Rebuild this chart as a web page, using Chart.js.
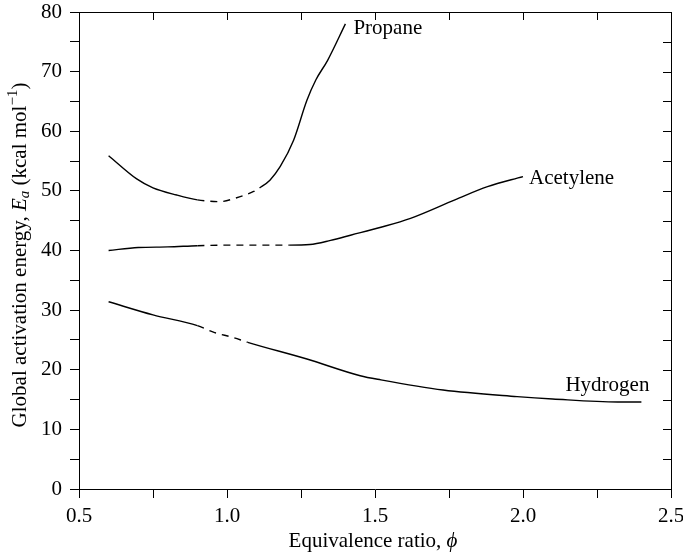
<!DOCTYPE html>
<html>
<head>
<meta charset="utf-8">
<script src="https://cdn.jsdelivr.net/npm/chart.js@4.4.1/dist/chart.umd.min.js"></script>
<style>
  html, body { margin: 0; padding: 0; background: #fff; }
  #wrap { width: 683px; height: 555px; }
</style>
</head>
<body>
<div id="wrap"><canvas id="chart"></canvas></div>
<script>
// values
const propanePhi = [0.6, 0.695, 0.75, 0.83, 0.9, 0.975, 1.03, 1.09, 1.11, 1.145, 1.18, 1.225, 1.27, 1.3, 1.34, 1.4];
const propaneEa = [55.9, 52.0, 50.5, 49.3, 48.5, 48.2, 48.8, 49.9, 50.5, 51.8, 54.1, 58.5, 65.2, 68.6, 71.9, 78.0];

const acetylenePhi = [0.6, 0.7, 0.8, 0.9, 1.0, 1.1, 1.21, 1.28, 1.35, 1.42, 1.52, 1.62, 1.77, 1.88, 2.0];
const acetyleneEa = [40.0, 40.5, 40.6, 40.8, 40.9, 40.9, 40.9, 41.0, 41.7, 42.6, 43.9, 45.4, 48.5, 50.7, 52.4];

const hydrogenPhi = [0.6, 0.75, 0.9, 0.954, 1.021, 1.07, 1.27, 1.45, 1.52, 1.73, 1.98, 2.1, 2.32, 2.4];
const hydrogenEa = [31.4, 29.2, 27.4, 26.3, 25.4, 24.6, 21.8, 19.0, 18.3, 16.6, 15.5, 15.1, 14.6, 14.6];

// phi ranges where each curve is drawn dashed
const propaneDashed = [0.9, 1.11];
const acetyleneDashed = [0.9, 1.21];
const hydrogenDashed = [0.9, 1.07];

const xTicks = [0.5, 1.0, 1.5, 2.0, 2.5];
const yTicks = [0, 10, 20, 30, 40, 50, 60, 70, 80];

const serif = "'Liberation Serif', 'Times New Roman', serif";

function pts(xs, ys) {
  return xs.map((x, i) => ({ x: x, y: ys[i] }));
}

function curve(name, xs, ys, dashed, label) {
  return {
    label: name,
    data: pts(xs, ys),
    showLine: true,
    borderColor: "#000",
    borderWidth: 1.4,
    pointRadius: 0,
    cubicInterpolationMode: "monotone",
    segment: {
      borderDash: (ctx) =>
        ctx.p0.parsed.x >= dashed[0] - 1e-6 && ctx.p1.parsed.x <= dashed[1] + 1e-6
          ? [7, 6]
          : undefined,
    },
    endLabel: label,
  };
}

// frame, mirrored inward ticks, titles and curve labels
const decorations = {
  id: "decorations",
  afterDraw(chart) {
    const { ctx, chartArea: a, scales } = chart;
    const x = scales.x, y = scales.y;
    ctx.save();
    ctx.strokeStyle = "#000";
    ctx.lineWidth = 1;
    ctx.beginPath();
    ctx.moveTo(a.left, a.top + 0.5);
    ctx.lineTo(a.right + 0.5, a.top + 0.5);
    ctx.lineTo(a.right + 0.5, a.bottom);
    x.ticks.forEach((t) => {
      const px = Math.round(x.getPixelForValue(t.value)) + 0.5;
      ctx.moveTo(px, a.top);
      ctx.lineTo(px, a.top + 8);
    });
    y.ticks.forEach((t) => {
      const py = Math.round(y.getPixelForValue(t.value)) + 0.5;
      ctx.moveTo(a.right, py);
      ctx.lineTo(a.right - 8, py);
    });
    ctx.stroke();

    ctx.fillStyle = "#000";
    ctx.textBaseline = "middle";

    // curve labels next to the curve ends
    chart.data.datasets.forEach((ds, i) => {
      const L = ds.endLabel;
      const last = chart.getDatasetMeta(i).data[ds.data.length - 1];
      ctx.font = "21px " + serif;
      ctx.textAlign = L.align;
      ctx.fillText(ds.label, last.x + L.dx, last.y + L.dy);
    });

    // x title
    const xParts = [
      { t: "Equivalence ratio, ", f: "21px " + serif },
      { t: "\u03D5", f: "italic 21px " + serif },
    ];
    drawParts(ctx, xParts, (a.left + a.right) / 2 - 2, 541);

    // y title (rotated)
    const yParts = [
      { t: "Global activation energy, ", f: "21px " + serif },
      { t: "E", f: "italic 21px " + serif },
      { t: "a", f: "italic 15px " + serif, dy: 5 },
      { t: " (kcal mol", f: "21px " + serif },
      { t: "\u22121", f: "15px " + serif, dy: -7 },
      { t: ")", f: "21px " + serif },
    ];
    ctx.translate(20, 255);
    ctx.rotate(-Math.PI / 2);
    drawParts(ctx, yParts, 0, 0);
    ctx.restore();
  },
};

function drawParts(ctx, parts, cx, cy) {
  let w = 0;
  parts.forEach((p) => { ctx.font = p.f; w += ctx.measureText(p.t).width; });
  let px = cx - w / 2;
  ctx.textAlign = "left";
  parts.forEach((p) => {
    ctx.font = p.f;
    ctx.fillText(p.t, px, cy + (p.dy || 0));
    px += ctx.measureText(p.t).width;
  });
}

new Chart(document.getElementById("chart"), {
  type: "scatter",
  data: {
    datasets: [
      curve("Propane", propanePhi, propaneEa, propaneDashed, { align: "left", dx: 8, dy: 5 }),
      curve("Acetylene", acetylenePhi, acetyleneEa, acetyleneDashed, { align: "left", dx: 6, dy: 2 }),
      curve("Hydrogen", hydrogenPhi, hydrogenEa, hydrogenDashed, { align: "right", dx: 8, dy: -16 }),
    ],
  },
  options: {
    responsive: true,
    maintainAspectRatio: false,
    animation: false,
    layout: { padding: { left: 0, top: 12, right: 12, bottom: 0 } },
    plugins: { legend: { display: false }, tooltip: { enabled: false } },
    scales: {
      x: {
        type: "linear",
        min: 0.5,
        max: 2.5,
        afterFit: (s) => {
          s.height = 66;
          s.paddingLeft = 0;
          s.paddingRight = 0;
        },
        afterBuildTicks: (s) => {
          const t = [];
          for (let i = 0; i <= 8; i++) t.push({ value: 0.5 + i * 0.25 });
          s.ticks = t;
        },
        ticks: {
          autoSkip: false,
          maxRotation: 0,
          padding: 6,
          color: "#000",
          font: { family: serif, size: 21 },
          callback: (v) => {
            const m = xTicks.find((t) => Math.abs(t - v) < 1e-6);
            return m !== undefined ? m.toFixed(1) : "";
          },
        },
        grid: { drawOnChartArea: false, tickLength: 9, tickColor: "#000" },
        border: { color: "#000", width: 1 },
      },
      y: {
        min: 0,
        max: 80,
        afterFit: (s) => {
          s.width = 79;
          s.paddingTop = 0;
          s.paddingBottom = 0;
        },
        ticks: {
          stepSize: 5,
          autoSkip: false,
          padding: 8,
          color: "#000",
          font: { family: serif, size: 21 },
          callback: (v) => (yTicks.includes(v) ? String(v) : ""),
        },
        grid: { drawOnChartArea: false, tickLength: 9, tickColor: "#000" },
        border: { color: "#000", width: 1 },
      },
    },
  },
  plugins: [decorations],
});
</script>
</body>
</html>
